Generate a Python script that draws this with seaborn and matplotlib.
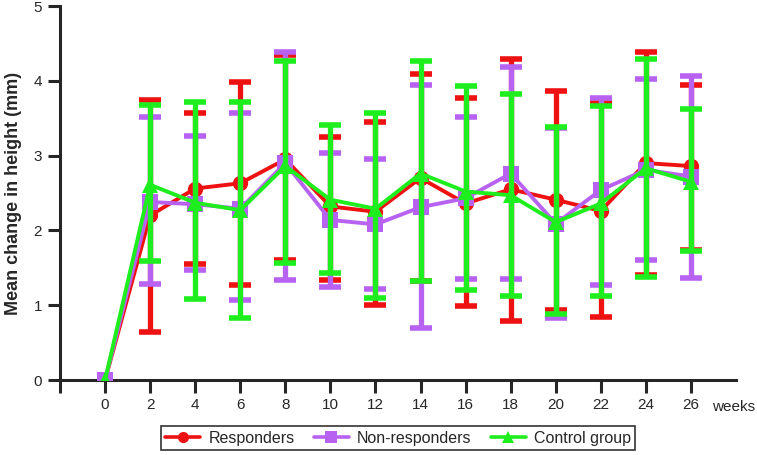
import matplotlib
matplotlib.use("Agg")
import matplotlib.pyplot as plt
import seaborn as sns
import pandas as pd
import numpy as np
from matplotlib.lines import Line2D

weeks = [0, 2, 4, 6, 8, 10, 12, 14, 16, 18, 20, 22, 24, 26]

resp_mean = [0, 2.20, 2.56, 2.63, 2.95, 2.32, 2.25, 2.70, 2.36, 2.55, 2.41, 2.26, 2.90, 2.86]
resp_low  = [0, 0.64, 1.55, 1.27, 1.60, 1.34, 1.00, 1.32, 0.99, 0.79, 0.94, 0.84, 1.40, 1.74]
resp_high = [0, 3.74, 3.57, 3.99, 4.35, 3.25, 3.45, 4.09, 3.77, 4.29, 3.87, 3.70, 4.39, 3.95]

nonr_mean = [0, 2.38, 2.35, 2.29, 2.90, 2.14, 2.08, 2.31, 2.43, 2.76, 2.09, 2.54, 2.81, 2.72]
nonr_low  = [0, 1.28, 1.47, 1.07, 1.34, 1.25, 1.21, 0.69, 1.35, 1.35, 0.83, 1.27, 1.60, 1.36]
nonr_high = [0, 3.52, 3.26, 3.57, 4.39, 3.03, 2.96, 3.95, 3.51, 4.18, 3.37, 3.77, 4.02, 4.06]

ctrl_mean = [0, 2.61, 2.37, 2.27, 2.86, 2.41, 2.29, 2.76, 2.52, 2.47, 2.11, 2.36, 2.83, 2.65]
ctrl_low  = [0, 1.59, 1.08, 0.83, 1.56, 1.43, 1.09, 1.32, 1.20, 1.12, 0.88, 1.12, 1.38, 1.73]
ctrl_high = [0, 3.67, 3.71, 3.71, 4.26, 3.41, 3.57, 4.27, 3.93, 3.82, 3.38, 3.66, 4.29, 3.62]

groups = ["Responders", "Non-responders", "Control group"]
colors = ["#EE1111", "#B862F2", "#1EEE1E"]
markers = ["o", "s", "^"]

sns.set_style("ticks")
plt.rcParams['font.family'] = ['Liberation Sans', 'DejaVu Sans']

fig = plt.figure(figsize=(7.57, 4.55), dpi=100)
ax = fig.add_axes([60/757, 1-380/455, (736-60)/757, (380-6)/455])

series = [(resp_mean, resp_low, resp_high), (nonr_mean, nonr_low, nonr_high),
          (ctrl_mean, ctrl_low, ctrl_high)]

for i, (g, (m, lo, hi)) in enumerate(zip(groups, series)):
    m = np.array(m); lo = np.array(lo); hi = np.array(hi)
    w = np.array(weeks)
    mask = w > 0
    ax.errorbar(w[mask], m[mask], yerr=[m[mask]-lo[mask], hi[mask]-m[mask]], fmt='none',
                ecolor=colors[i], elinewidth=3.8, capsize=8, capthick=4.0, zorder=2+i*2)
    df = pd.DataFrame({"week": weeks, "value": m})
    sns.lineplot(data=df, x="week", y="value", ax=ax, color=colors[i], marker=markers[i],
                 markersize=11, markeredgewidth=0, linewidth=2.8, zorder=3+i*2, legend=False)

ax.set_xlim(-2, 28)
ax.set_ylim(0, 5)
ax.set_xticks([-2] + weeks)
ax.set_xticklabels([""] + [str(w) for w in weeks])
ax.set_yticks([0, 1, 2, 3, 4, 5])
ax.tick_params(axis='both', direction='out', length=9, width=2.2, labelsize=11, pad=4)
for side in ['left', 'bottom']:
    ax.spines[side].set_linewidth(2.2)
ax.spines['top'].set_visible(False)
ax.spines['right'].set_visible(False)
ax.set_xlabel("")
ax.set_ylabel("Mean change in height (mm)", fontsize=13, fontweight='bold', labelpad=8)

ax.annotate("weeks", xy=(28, 0), xycoords=('data', 'axes fraction'),
            xytext=(-2, -19.5), textcoords='offset points', ha='center', va='center',
            fontsize=11, annotation_clip=False)

handles = [Line2D([0], [0], color=c, marker=mk, markersize=8, linewidth=2.6, markeredgewidth=0)
           for c, mk in zip(colors, markers)]
leg = fig.legend(handles, groups, loc='center', bbox_to_anchor=(398/757, 1-438/455), ncol=3,
                 frameon=True, fancybox=False, edgecolor='black', fontsize=11.5,
                 handlelength=2.2, columnspacing=1.2, handletextpad=0.5, borderpad=0.3)
leg.get_frame().set_linewidth(1.2)

fig.savefig("out.png", dpi=100)
